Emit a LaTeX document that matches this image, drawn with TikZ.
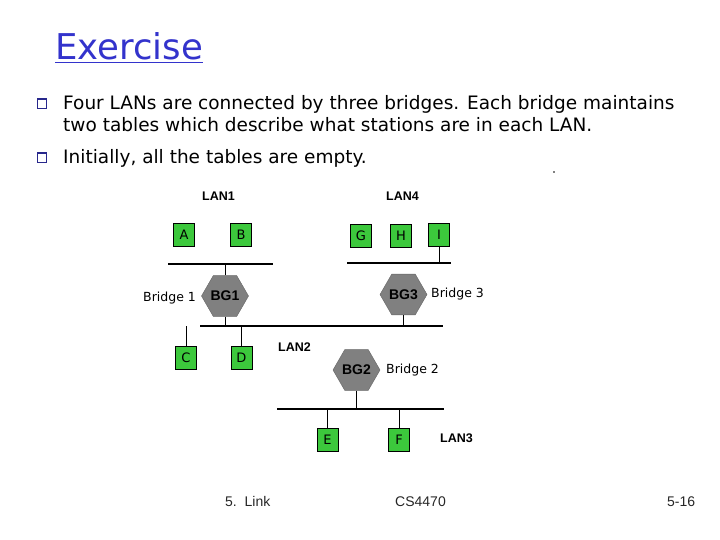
\documentclass[tikz,border=0pt]{standalone}
\usepackage{fontspec}
\setmainfont{DejaVu Sans}
\newfontfamily\labfont{Liberation Sans}
\usetikzlibrary{shapes.geometric}
\definecolor{titleblue}{RGB}{51,51,204}
\definecolor{bulblue}{RGB}{40,40,140}
\definecolor{stagreen}{RGB}{60,200,60}
\definecolor{hexgray}{RGB}{128,128,128}
\tikzset{
  station/.style={draw=black, fill=stagreen, minimum width=21pt, minimum height=23pt, inner sep=0pt, font=\fontsize{13}{13}\selectfont},
  bridgehex/.style={regular polygon, regular polygon sides=6, minimum size=45pt, inner sep=0pt, fill=hexgray, draw=black!60, font=\labfont\bfseries\fontsize{14}{14}\selectfont},
  lanline/.style={draw=black, line width=1.1pt},
  link/.style={draw=black, line width=1pt},
  lanlabel/.style={font=\labfont\bfseries\fontsize{12.5}{12.5}\selectfont, anchor=base west, inner sep=0pt},
  brlabel/.style={font=\fontsize{12.5}{12.5}\selectfont, anchor=base west, inner sep=0pt},
  bodytext/.style={font=\fontsize{18.5}{20}\selectfont, anchor=base west, inner sep=0pt},
  bulletbox/.style={draw=bulblue, line width=0.8pt, minimum size=9pt, inner sep=0pt},
  foot/.style={font=\labfont\fontsize{14}{14}\selectfont, anchor=base west, inner sep=0pt, text=black!85}
}
\begin{document}
\begin{tikzpicture}[x=1pt,y=-1pt]
\useasboundingbox (0,0) rectangle (720,540);
% title
\node[anchor=base west, inner sep=0pt, text=titleblue, font=\fontsize{35.5}{36}\selectfont] (title) at (55,60) {\underline{Exercise}};
% bullets
\node[bulletbox] (b1) at (42,104) {};
\draw[bulblue, line width=2pt] (b1.north west) -- (b1.north east);
\node[bulletbox] (b2) at (42,158) {};
\draw[bulblue, line width=2pt] (b2.north west) -- (b2.north east);
\node[bodytext] (t1) at (63,110) {Four LANs are connected by three bridges. Each bridge maintains};
\node[bodytext] (t2) at (63,132) {two tables which describe what stations are in each LAN.};
\node[bodytext] (t3) at (63,164) {Initially, all the tables are empty.};
\fill[black] (554,172) circle (0.8pt);
% LAN lines
\coordinate (l1a) at (168,264); \coordinate (l1b) at (273,264);
\coordinate (l2a) at (200,326); \coordinate (l2b) at (443,326);
\coordinate (l3a) at (277,409); \coordinate (l3b) at (444,409);
\coordinate (l4a) at (347,263); \coordinate (l4b) at (451,263);
\draw[lanline] (l1a) -- (l1b);
\draw[lanline] (l2a) -- (l2b);
\draw[lanline] (l3a) -- (l3b);
\draw[lanline] (l4a) -- (l4b);
% stations
\node[station] (A) at (184,234.5) {A};
\node[station] (B) at (241,234.5) {B};
\node[station] (C) at (186,357.5) {C};
\node[station] (D) at (241.5,357.5) {D};
\node[station] (E) at (327.5,440) {E};
\node[station] (F) at (399,440) {F};
\node[station] (G) at (361,236) {G};
\node[station] (H) at (401,236) {H};
\node[station] (I) at (439,234.5) {I};
% bridges
\node[bridgehex] (BG1) at (225,296) {BG1};
\node[bridgehex] (BG2) at (356.5,370) {BG2};
\node[bridgehex] (BG3) at (403.5,294.5) {BG3};
% connectors
\draw[link] (BG1.north) -- (BG1.north |- l1a);
\draw[link] (BG1.south) -- (BG1.south |- l2a);
\draw[link] (C.north) -- (C.north |- l2a);
\draw[link] (D.north) -- (D.north |- l2a);
\draw[link] (BG3.south) -- (BG3.south |- l2a);
\draw[link] (BG2.south) -- (BG2.south |- l3a);
\draw[link] (E.north) -- (E.north |- l3a);
\draw[link] (F.north) -- (F.north |- l3a);
\draw[link] (I.south) -- (I.south |- l4a);
% labels
\node[lanlabel] (lan1) at (202,201) {LAN1};
\node[lanlabel] (lan4) at (386,201) {LAN4};
\node[lanlabel] (lan2) at (278,351) {LAN2};
\node[lanlabel] (lan3) at (440,442) {LAN3};
\node[brlabel] (br1) at (143,301) {Bridge 1};
\node[brlabel] (br3) at (431,297) {Bridge 3};
\node[brlabel] (br2) at (386,373) {Bridge 2};
% footer
\node[foot] (f1) at (225,506) {5.\ \ Link};
\node[foot] (f2) at (395,506) {CS4470};
\node[foot] (f3) at (667,506) {5-16};
\end{tikzpicture}
\end{document}
